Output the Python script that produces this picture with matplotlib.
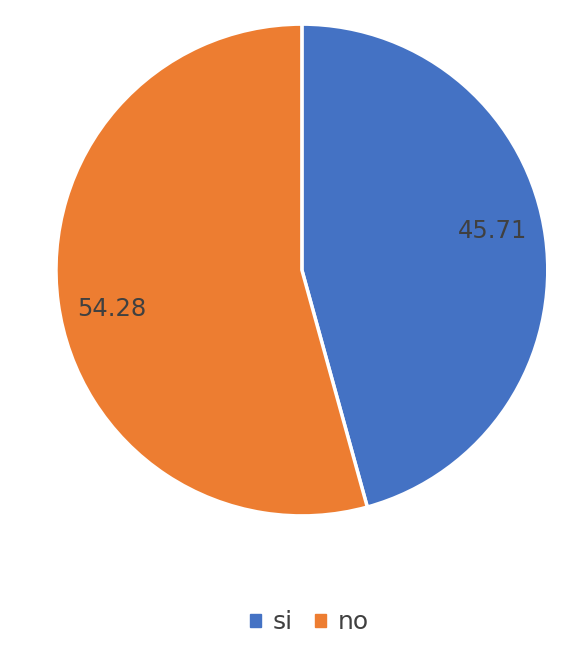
import numpy as np
import matplotlib
matplotlib.use("Agg")
import matplotlib.pyplot as plt
from matplotlib.patches import Patch

categories = ["si", "no"]
values = [45.71, 54.28]
colors = ["#4472C4", "#ED7D31"]

fig = plt.figure(figsize=(5.82, 6.53), dpi=100)
ax = fig.add_axes([0.0962, 0.2098, 0.845, 0.7534])

wedges, texts = ax.pie(values, labels=[f"{v:.2f}" for v in values], colors=colors,
                       startangle=90, counterclock=False, labeldistance=0.78,
                       wedgeprops=dict(edgecolor="white", linewidth=2.5),
                       textprops=dict(color="#404040", fontsize=17.5))
# nudge labels a little counter-clockwise, like the original
for w, t in zip(wedges, texts):
    ang = np.deg2rad((w.theta1 + w.theta2) / 2 + 4)
    t.set_position((0.79 * np.cos(ang), 0.79 * np.sin(ang)))
    t.set_ha("center")
    t.set_va("center")
ax.set_xlim(-1.0, 1.0)
ax.set_ylim(-1.0, 1.0)
ax.set_aspect("equal")

handles = [Patch(facecolor=c, edgecolor=c) for c in colors]
fig.legend(handles, categories, loc="center", bbox_to_anchor=(0.531, 0.047), ncol=2,
           frameon=False, fontsize=18, handlelength=0.45, handleheight=0.45,
           handletextpad=0.45, columnspacing=0.9, labelcolor="#404040")

fig.savefig("out.png", dpi=100)
